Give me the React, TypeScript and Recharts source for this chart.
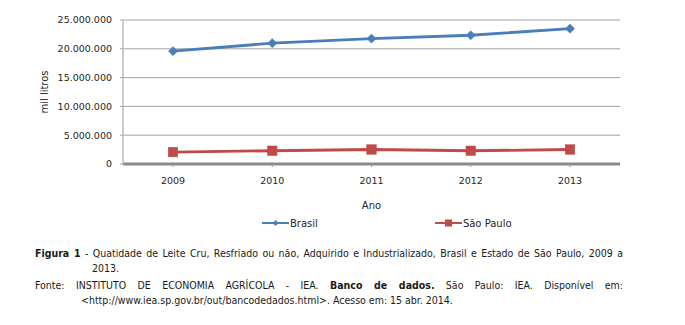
import React from 'react';
import { LineChart, Line, XAxis, YAxis, CartesianGrid, Legend } from 'recharts';

const years = ['2009', '2010', '2011', '2012', '2013'];
const brasil = [19590000, 20970000, 21780000, 22350000, 23500000];
const saoPaulo = [2070000, 2300000, 2520000, 2300000, 2520000];
const yTicks = [0, 5000000, 10000000, 15000000, 20000000, 25000000];

const data = years.map((y, i) => ({ ano: y, brasil: brasil[i], saoPaulo: saoPaulo[i] }));

const BLUE = '#4a7ebb';
const RED = '#be4b48';
const FONT = '"DejaVu Sans", Verdana, sans-serif';
const CAP_FONT = '"DejaVu Sans Condensed", "DejaVu Sans", sans-serif';

const fmt = (v: number) => String(v).replace(/\B(?=(\d{3})+(?!\d))/g, '.');

const Diamond = (props: any) => {
  const { cx, cy } = props;
  if (cx == null || cy == null) return null;
  const r = 4.6;
  return <polygon points={`${cx},${cy - r} ${cx + r},${cy} ${cx},${cy + r} ${cx - r},${cy}`} fill={BLUE} stroke={BLUE} strokeWidth={0.5} />;
};

const Square = (props: any) => {
  const { cx, cy } = props;
  if (cx == null || cy == null) return null;
  const s = 9.5;
  return <rect x={cx - s / 2} y={cy - s / 2} width={s} height={s} fill={RED} stroke={RED} strokeWidth={0.5} />;
};

const YLabel = (props: any) => {
  const vb = props.viewBox || {};
  const x = 44;
  const y = (vb.y ?? 20) + (vb.height ?? 144) / 2;
  return (
    <text x={x} y={y} transform={`rotate(-90 ${x} ${y})`} textAnchor="middle" dominantBaseline="central" fontFamily={FONT} fontSize={10} fill="#262626">
      mil litros
    </text>
  );
};

const XLabel = (props: any) => {
  const vb = props.viewBox || {};
  const x = (vb.x ?? 123) + (vb.width ?? 497) / 2;
  const y = (vb.y ?? 164) + 41;
  return (
    <text x={x} y={y} textAnchor="middle" dominantBaseline="central" fontFamily={FONT} fontSize={10} fill="#262626">
      Ano
    </text>
  );
};

const LegendContent = (props: any) => {
  const payload = props.payload || [];
  return (
    <div style={{ display: 'flex', alignItems: 'center', paddingLeft: 262, height: 16, fontFamily: FONT, fontSize: 10, color: '#262626' }}>
      {payload.map((p: any, i: number) => {
        const isBlue = p.dataKey === 'brasil';
        return (
          <div key={i} style={{ display: 'flex', alignItems: 'center', marginRight: i === 0 ? 117 : 0 }}>
            <svg width={27} height={12} style={{ display: 'block' }}>
              <line x1={0} y1={6} x2={27} y2={6} stroke={p.color} strokeWidth={2} />
              {isBlue ? (
                <polygon points="13.5,3 16.5,6 13.5,9 10.5,6" fill={p.color} />
              ) : (
                <rect x={10} y={2.5} width={7} height={7} fill={p.color} />
              )}
            </svg>
            <span style={{ marginLeft: 1 }}>{p.value}</span>
          </div>
        );
      })}
    </div>
  );
};

const lineStyle: React.CSSProperties = {
  position: 'absolute',
  whiteSpace: 'nowrap',
  fontFamily: CAP_FONT,
  fontSize: 10.5,
  lineHeight: '15px',
  color: '#1a1a1a',
};

const justified: React.CSSProperties = {
  ...lineStyle,
  whiteSpace: 'normal',
  textAlign: 'justify',
  textAlignLast: 'justify',
  width: 588,
};

export default function App() {
  return (
    <div style={{ position: 'absolute', left: 0, top: 0, width: 685, height: 325, background: '#fff' }}>
      <LineChart width={685} height={240} data={data} margin={{ top: 20, right: 65, left: 33, bottom: 0 }}>
        <CartesianGrid vertical={false} stroke="#a3a3a3" strokeWidth={1} yAxisId="left" />
        <XAxis
          dataKey="ano"
          height={76}
          padding={{ left: 50, right: 50 }}
          axisLine={{ stroke: '#8a8a8a', strokeWidth: 3 }}
          tickLine={{ stroke: '#9a9a9a' }}
          tickSize={3}
          tickMargin={10}
          tick={{ fontFamily: FONT, fontSize: 9.5, fill: '#262626' }}
          label={<XLabel />}
        />
        <YAxis
          yAxisId="left"
          width={90}
          domain={[0, 25000000]}
          ticks={yTicks}
          tickFormatter={fmt}
          axisLine={{ stroke: '#b3bccb', strokeWidth: 1.5 }}
          tickLine={{ stroke: '#a3a3a3' }}
          tickSize={3}
          tickMargin={8}
          tick={{ fontFamily: FONT, fontSize: 9.5, fill: '#262626' }}
          label={<YLabel />}
        />
        <YAxis
          yAxisId="right"
          orientation="right"
          width={0}
          domain={[0, 25000000]}
          tick={false}
          tickLine={false}
          axisLine={{ stroke: '#c9d3e3', strokeWidth: 2 }}
        />
        <Legend
          layout="horizontal"
          verticalAlign="middle"
          align="center"
          wrapperStyle={{ position: 'absolute', top: 215, left: 0, width: 685, height: 16 }}
          content={<LegendContent />}
        />
        <Line yAxisId="left" type="linear" dataKey="brasil" name="Brasil" stroke={BLUE} strokeWidth={2.8} dot={<Diamond />} activeDot={false} isAnimationActive={false} />
        <Line yAxisId="left" type="linear" dataKey="saoPaulo" name="São Paulo" stroke={RED} strokeWidth={2.8} dot={<Square />} activeDot={false} isAnimationActive={false} />
      </LineChart>
      <div style={{ ...justified, left: 35, top: 246 }}>
        <b>Figura 1</b> - Quatidade de Leite Cru, Resfriado ou não, Adquirido e Industrializado, Brasil e Estado de São Paulo, 2009 a
      </div>
      <div style={{ ...lineStyle, left: 92, top: 261 }}>2013.</div>
      <div style={{ ...justified, left: 35, top: 278 }}>
        Fonte: INSTITUTO DE ECONOMIA AGRÍCOLA - IEA. <b>Banco de dados.</b> São Paulo: IEA. Disponível em:
      </div>
      <div style={{ ...lineStyle, left: 81, top: 293 }}>
        &lt;http://www.iea.sp.gov.br/out/bancodedados.html&gt;. Acesso em: 15 abr. 2014.
      </div>
    </div>
  );
}
